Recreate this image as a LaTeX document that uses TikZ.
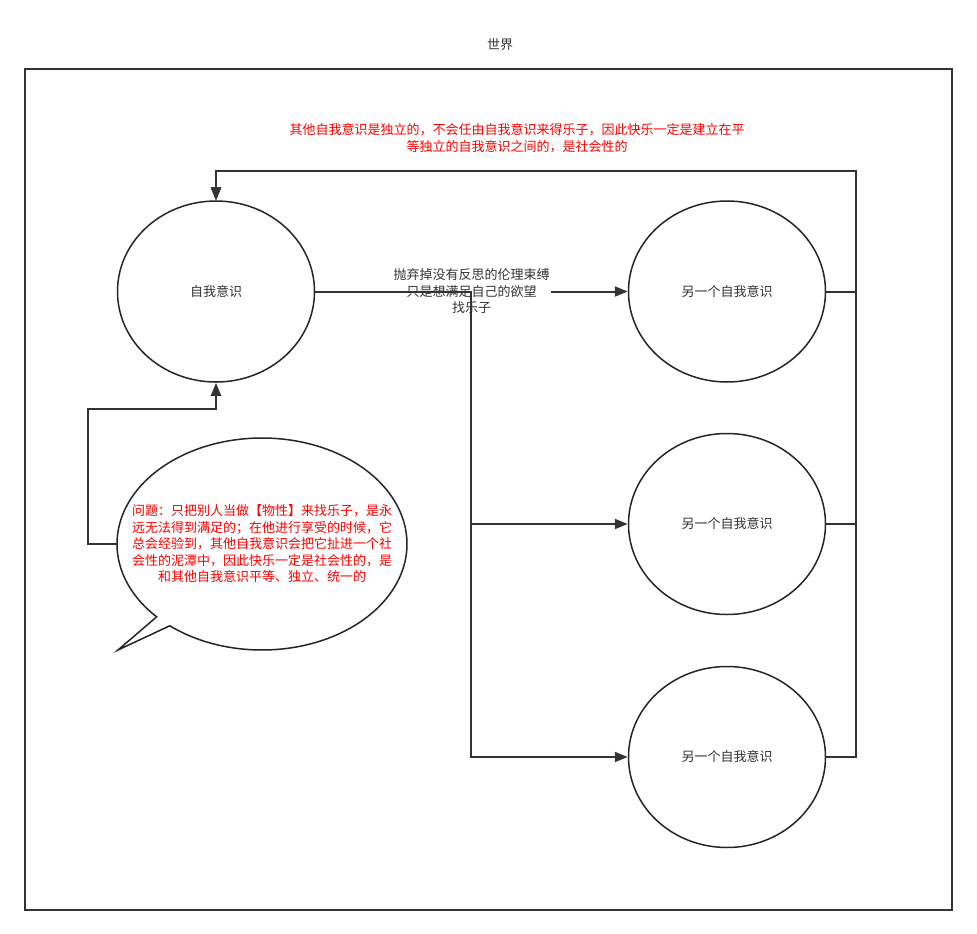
\documentclass[tikz,border=0pt]{standalone}
\usepackage{fontspec}
\setmainfont{Noto Sans CJK SC}
\usetikzlibrary{arrows.meta,shapes.geometric}
\definecolor{ln}{HTML}{333333}
\definecolor{el}{HTML}{22262B}
\definecolor{redtxt}{HTML}{FF0000}
\begin{document}
\begin{tikzpicture}[x=1pt,y=-1pt,
  txt/.style={font=\fontsize{13}{16.5}\selectfont, text=ln, align=center, inner sep=1pt},
  ell/.style={ellipse, draw=el, line width=1.5pt, minimum width=197, minimum height=181, inner sep=0pt, txt},
  conn/.style={draw=ln, line width=2pt, -{Triangle[length=13pt,width=10pt]}},
  frame/.style={draw=ln, line width=2pt}]
\useasboundingbox (0,0) rectangle (977,934);
\node[txt] (title) at (500,45) {世界};
\draw[frame] (25,69) rectangle (952,910);
\node[txt, text=redtxt] (toplbl) at (517,138) {其他自我意识是独立的，不会任由自我意识来得乐子，因此快乐一定是建立在平\\等独立的自我意识之间的，是社会性的};
\node[ell] (self) at (216,291.5) {自我意识};
\node[ell] (o1) at (727,291.5) {另一个自我意识};
\node[ell] (o2) at (727,524) {另一个自我意识};
\node[ell] (o3) at (727,757) {另一个自我意识};
\node[txt, text=redtxt] (bub) at (262,544)
  {问题：只把别人当做【物性】来找乐子，是永\\远无法得到满足的；在他进行享受的时候，它\\总会经验到，其他自我意识会把它扯进一个社\\会性的泥潭中，因此快乐一定是社会性的，是\\和其他自我意识平等、独立、统一的};
\coordinate (bubw) at (117,544);
\draw[draw=el, line width=1.5pt, line join=miter] plot[domain=136.6:489.5, samples=120, smooth] ({262+145*cos(\x)},{544+106*sin(\x)}) -- (118,650) -- cycle;
\draw[conn] (self.east) -- (o1.west) node[midway, txt, fill=white] {抛弃掉没有反思的伦理束缚\\只是想满足自己的欲望\\找乐子};
\draw[conn] (self.east) -- (471,291.5) |- (o2.west);
\draw[conn] (self.east) -- (471,291.5) |- (o3.west);
\draw[conn] (o1.east) -- (856,291.5) |- (216,171) -- (self.north);
\draw[conn] (o2.east) -- (856,524) |- (216,171) -- (self.north);
\draw[conn] (o3.east) -- (856,757) |- (216,171) -- (self.north);
\draw[conn] (bubw) -- (88,544) |- (216,409) -- (self.south);
\end{tikzpicture}
\end{document}
